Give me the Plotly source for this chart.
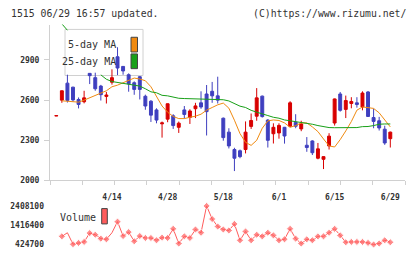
import plotly.graph_objects as go

# ---------------- data ----------------
dates = ["3/31", "4/1", "4/2", "4/3", "4/6", "4/7", "4/8", "4/9", "4/10", "4/13",
         "4/14", "4/15", "4/16", "4/17", "4/20", "4/21", "4/22", "4/23", "4/24", "4/27",
         "4/28", "4/30", "5/1", "5/7", "5/8", "5/11", "5/12", "5/13", "5/14", "5/15",
         "5/18", "5/19", "5/20", "5/21", "5/22", "5/25", "5/26", "5/27", "5/28", "5/29",
         "6/1", "6/2", "6/3", "6/4", "6/5", "6/8", "6/9", "6/10", "6/11", "6/12",
         "6/15", "6/16", "6/17", "6/18", "6/19", "6/22", "6/23", "6/24", "6/25", "6/26",
         "6/29"]

open_ = [2482, 2600, 2727, 2697, 2605, 2588, 2800, 2768, 2705, 2628,
         2734, 2924, 2852, 2790, 2730, 2775, 2629, 2592, 2527, 2423,
         2458, 2483, 2397, 2527, 2471, 2536, 2580, 2646, 2666, 2632,
         2465, 2361, 2231, 2222, 2231, 2404, 2480, 2630, 2451, 2349,
         2355, 2397, 2405, 2434, 2385, 2263, 2295, 2166, 2158, 2258,
         2429, 2646, 2531, 2575, 2580, 2549, 2661, 2470, 2446, 2383,
         2312]
high = [2484, 2672, 2790, 2700, 2620, 2670, 2802, 2805, 2714, 2661,
        2830, 2995, 2855, 2800, 2740, 2780, 2641, 2600, 2539, 2440,
        2575, 2495, 2440, 2556, 2532, 2580, 2666, 2713, 2736, 2775,
        2470, 2390, 2244, 2231, 2441, 2500, 2690, 2634, 2458, 2427,
        2427, 2400, 2592, 2495, 2446, 2324, 2300, 2280, 2180, 2353,
        2612, 2661, 2634, 2622, 2622, 2666, 2668, 2536, 2475, 2409,
        2365]
low = [2482, 2580, 2582, 2590, 2538, 2576, 2720, 2670, 2597, 2575,
       2716, 2787, 2790, 2663, 2640, 2605, 2528, 2437, 2427, 2320,
       2435, 2385, 2355, 2463, 2422, 2466, 2535, 2336, 2580, 2575,
       2297, 2239, 2070, 2166, 2202, 2385, 2446, 2470, 2246, 2276,
       2312, 2275, 2397, 2390, 2368, 2214, 2190, 2158, 2085, 2231,
       2410, 2514, 2466, 2539, 2544, 2524, 2475, 2390, 2373, 2266,
       2246]
close = [2484, 2670, 2598, 2602, 2568, 2617, 2783, 2685, 2641, 2638,
         2768, 2840, 2818, 2722, 2680, 2680, 2556, 2488, 2451, 2430,
         2573, 2410, 2428, 2493, 2519, 2557, 2549, 2514, 2632, 2600,
         2320, 2258, 2166, 2178, 2361, 2448, 2617, 2477, 2300, 2397,
         2411, 2332, 2580, 2405, 2422, 2246, 2207, 2236, 2178, 2331,
         2609, 2524, 2597, 2590, 2568, 2653, 2478, 2441, 2392, 2280,
         2361]

ma5 = [None, 2595, 2592, 2590, 2585, 2600, 2618, 2632, 2650, 2670,
       2700, 2712, 2730, 2750, 2765, 2758, 2745, 2700, 2630, 2556,
       2510, 2478, 2462, 2462, 2472, 2480, 2495, 2525, 2545, 2565,
       2578, 2540, 2450, 2350, 2285, 2262, 2300, 2390, 2445, 2452,
       2448, 2430, 2397, 2410, 2430, 2430, 2400, 2365, 2310, 2258,
       2250, 2305, 2370, 2440, 2525, 2549, 2544, 2538, 2505, 2450,
       2400]
# values hidden behind the legend box are unknown -> None
ma25 = [None, 3170, 3122, None, None, None, None, None, 2789, 2756,
        2739, 2732, 2730, 2720, 2714, 2705, 2685, 2662, 2655, 2636,
        2632, 2624, 2614, 2612, 2610, 2608, 2606, 2606, 2605, 2605,
        2603, 2594, 2575, 2555, 2545, 2524, 2510, 2500, 2485, 2472,
        2465, 2452, 2446, 2440, 2436, 2430, 2420, 2410, 2402, 2395,
        2394, 2394, 2394, 2396, 2395, 2402, 2403, 2410, 2420, 2422,
        2422]

volume = [None, 843500, 1028500, 439800, 507000, 557500, 1011700, 927600, 725700, 692100,
          1028500, 1600500, 860300, 1062100, 591200, 860300, 759300, 759300, 641600, 776100,
          759300, 1230400, 473400, 843500, 759300, 1196800, 1028500, 2408100, 1735100, 1348200,
          1196800, 1146300, 1482800, 641600, 1095800, 641600, 927600, 843500, 1028500, 894000,
          641600, 692100, 1230400, 725700, 473400, 692100, 641600, 843500, 843500, 1028500,
          1230400, 894000, 540000, 557500, 557500, 557500, 507000, 424700, 473400, 641600,
          540000]

price_ticks = [2000, 2300, 2600, 2900]
vol_ticks = [424700, 1416400, 2408100]
label_dates = ["4/14", "4/28", "5/18", "6/1", "6/15", "6/29"]
legend_names = ["5-day MA", "25-day MA"]
title_left = "1515 06/29 16:57 updated."
title_right = "(C)https://www.rizumu.net/"

# ---------------- styling ----------------
W, H = 420, 259
RED = "#d80000"
BLUE = "#3f3fbf"
ORANGE = "#f08a10"
GREEN = "#18a018"
VOLC = "#ff5c5c"
AXC = "#d0d0d0"
TXT = "#333333"
FONT = "DejaVu Sans Mono"


def px(x):
    return x / W


def py(y):
    return 1 - y / H


idx = list(range(len(dates)))
tick_idx = [dates.index(d) for d in label_dates]
vol_marker_size = [0 if i in (2, 10) else 5.5 for i in idx]
tickfont = dict(family=FONT, size=8, color=TXT, weight="bold")

fig = go.Figure()
fig.add_trace(go.Candlestick(
    x=idx, open=open_, high=high, low=low, close=close,
    increasing=dict(line=dict(color=RED, width=1), fillcolor=RED),
    decreasing=dict(line=dict(color=BLUE, width=1), fillcolor=BLUE),
    whiskerwidth=0, showlegend=False, hoverinfo="skip"))
fig.add_trace(go.Scatter(x=idx, y=ma5, mode="lines", line=dict(color=ORANGE, width=1),
                         showlegend=False, hoverinfo="skip"))
fig.add_trace(go.Scatter(x=idx, y=ma25, mode="lines", line=dict(color=GREEN, width=1),
                         connectgaps=False, showlegend=False, hoverinfo="skip"))
fig.add_trace(go.Scatter(x=idx, y=volume, mode="lines+markers", xaxis="x2", yaxis="y2",
                         line=dict(color=VOLC, width=1),
                         marker=dict(symbol="diamond", size=vol_marker_size, color=VOLC),
                         showlegend=False, hoverinfo="skip"))

xr = [-1.13, 62.64]
xdom = [px(50), px(405)]

fig.update_layout(
    width=W, height=H, autosize=False,
    margin=dict(l=0, r=0, t=0, b=0),
    paper_bgcolor="white", plot_bgcolor="white",
    boxgap=0.25,
    showlegend=False,
    xaxis=dict(domain=xdom, range=xr, rangeslider=dict(visible=False),
               showgrid=False, zeroline=False, showline=True, linecolor=AXC, linewidth=1,
               tickvals=tick_idx, ticktext=label_dates, ticks="",
               ticklabelstandoff=9, tickfont=tickfont, anchor="y"),
    xaxis3=dict(domain=xdom, range=[0, 11], overlaying="x", anchor="y",
                tickvals=list(range(12)), ticks="outside", ticklen=4, tickcolor=AXC,
                tickwidth=1, showticklabels=False, showgrid=False, zeroline=False,
                showline=False, side="bottom"),
    yaxis=dict(domain=[py(184), py(25)], range=[2000, 3165], showgrid=False,
               zeroline=False, showline=True, linecolor=AXC, linewidth=1,
               tickvals=price_ticks, ticks="outside", ticklen=5, tickcolor=AXC,
               ticklabelstandoff=3, tickfont=tickfont),
    xaxis2=dict(domain=xdom, range=xr, anchor="y2", showgrid=False, zeroline=False,
                showline=False, showticklabels=False, ticks=""),
    yaxis2=dict(domain=[py(255), py(203)], range=[137000, 2761400], showgrid=False,
                zeroline=False, showline=False, tickvals=vol_ticks,
                ticktext=[str(v) for v in vol_ticks], ticks="",
                ticklabelstandoff=5, tickfont=tickfont),
)

# dummy trace so the tick-only overlay axis is drawn
fig.add_trace(go.Scatter(x=[None], y=[None], xaxis="x3", yaxis="y", showlegend=False,
                         hoverinfo="skip"))

shapes = []
annotations = []
# legend box (below traces so candles draw over it)
shapes.append(dict(type="rect", xref="paper", yref="paper", layer="below",
                   x0=px(65), x1=px(143), y0=py(77), y1=py(30),
                   line=dict(color=AXC, width=1), fillcolor="white"))
for k, (name, col) in enumerate(zip(legend_names, [ORANGE, GREEN])):
    yc = 45.5 + k * 17
    shapes.append(dict(type="rect", xref="paper", yref="paper", layer="above",
                       x0=px(131), x1=px(137.5), y0=py(yc + 7.5), y1=py(yc - 7.5),
                       line=dict(color="#444444", width=1), fillcolor=col))
    annotations.append(dict(xref="paper", yref="paper", x=px(118), y=py(yc),
                            xanchor="right", yanchor="middle", text=name, showarrow=False,
                            font=dict(family=FONT, size=10, color=TXT)))
# volume legend
shapes.append(dict(type="rect", xref="paper", yref="paper", layer="above",
                   x0=px(101.7), x1=px(107.3), y0=py(228.3), y1=py(212.7),
                   line=dict(color="#444444", width=1), fillcolor=VOLC))
annotations.append(dict(xref="paper", yref="paper", x=px(58), y=py(222),
                        xanchor="left", yanchor="middle", text="Volume", showarrow=False,
                        font=dict(family=FONT, size=10, color=TXT)))
# header texts
annotations.append(dict(xref="paper", yref="paper", x=px(9), y=py(13.5),
                        xanchor="left", yanchor="middle", text=title_left, showarrow=False,
                        font=dict(family=FONT, size=9.8, color=TXT)))
annotations.append(dict(xref="paper", yref="paper", x=px(408), y=py(13.5),
                        xanchor="right", yanchor="middle", text=title_right, showarrow=False,
                        font=dict(family=FONT, size=9.8, color=TXT)))

fig.update_layout(shapes=shapes, annotations=annotations)
fig.write_html("out.html")
